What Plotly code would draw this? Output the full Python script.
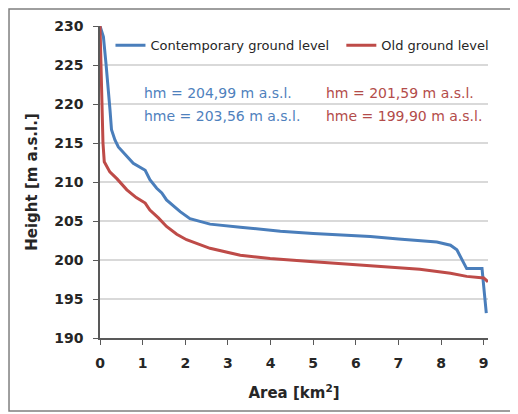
import plotly.graph_objects as go

area_contemporary = [0.00, 0.08, 0.14, 0.195, 0.235, 0.27, 0.35, 0.43, 0.66, 0.78, 1.06, 1.17, 1.33, 1.45,
                     1.56, 1.88, 2.11, 2.58, 3.29, 3.99, 4.23, 5.0, 6.34, 7.0, 7.9, 8.22, 8.37, 8.6, 8.96, 9.0, 9.06]
height_contemporary = [230.0, 228.6, 225.2, 222.2, 219.2, 216.7, 215.4, 214.5, 213.2, 212.4, 211.5, 210.3, 209.2, 208.6,
                       207.7, 206.2, 205.3, 204.6, 204.2, 203.8, 203.7, 203.4, 203.0, 202.7, 202.3, 201.9, 201.3, 198.9, 198.9, 196.6, 193.2]

area_old = [0.00, 0.02, 0.05, 0.07, 0.10, 0.23, 0.40, 0.63, 0.85, 1.06, 1.17, 1.37, 1.56, 1.80, 2.03, 2.58, 3.29,
            3.99, 4.93, 6.0, 6.65, 7.5, 8.22, 8.6, 9.0, 9.1]
height_old = [230.0, 226.0, 220.0, 215.0, 212.6, 211.3, 210.4, 209.0, 208.0, 207.3, 206.4, 205.4, 204.3, 203.3, 202.6,
              201.5, 200.6, 200.2, 199.8, 199.4, 199.2, 198.8, 198.3, 197.9, 197.7, 197.2]

series_names = ["Contemporary ground level", "Old ground level"]
stats_contemporary = ["hm = 204,99 m a.s.l.", "hme = 203,56 m a.s.l."]
stats_old = ["hm = 201,59 m a.s.l.", "hme = 199,90 m a.s.l."]

BLUE = "#4A7EBB"
RED = "#BE4B48"
BLUE_TXT = "#4F81BD"
RED_TXT = "#B34C4A"
FONT = "DejaVu Sans"

fig = go.Figure()
fig.add_trace(go.Scatter(x=area_contemporary, y=height_contemporary, mode="lines", name=series_names[0],
                         line=dict(color=BLUE, width=3), legend="legend"))
fig.add_trace(go.Scatter(x=area_old, y=height_old, mode="lines", name=series_names[1],
                         line=dict(color=RED, width=3), legend="legend2"))

# stats annotations
for i, t in enumerate(stats_contemporary):
    fig.add_annotation(x=0.108, y=0.785 - i * 0.072, xref="paper", yref="paper", text=t, showarrow=False,
                       xanchor="left", yanchor="middle", font=dict(family=FONT, size=14, color=BLUE_TXT))
for i, t in enumerate(stats_old):
    fig.add_annotation(x=0.577, y=0.785 - i * 0.072, xref="paper", yref="paper", text=t, showarrow=False,
                       xanchor="left", yanchor="middle", font=dict(family=FONT, size=14, color=RED_TXT))

# outer frame (open on the right, as in the cropped original)
fig.add_shape(type="path", xref="paper", yref="paper",
              path="M 1.5 1.0545 L -0.2345 1.0545 L -0.2345 -0.234 L 1.5 -0.234",
              line=dict(color="#7f7f7f", width=1.5), layer="below")

legend_common = dict(orientation="h", yanchor="middle", xanchor="left", bgcolor="rgba(0,0,0,0)",
                     font=dict(family=FONT, size=13, color="#262626"), itemwidth=30)

fig.update_layout(
    width=510, height=406,
    margin=dict(l=92, r=30, t=18, b=76, autoexpand=False),
    paper_bgcolor="white", plot_bgcolor="white",
    font=dict(family=FONT, color="#262626"),
    showlegend=True,
    legend=dict(x=0.027, y=0.938, **legend_common),
    legend2=dict(x=0.622, y=0.938, **legend_common),
    xaxis=dict(range=[0, 9.1], tickvals=list(range(0, 10)), showgrid=False, zeroline=False,
               showline=True, linecolor="#595959", linewidth=1.5,
               ticks="outside", ticklen=5, tickcolor="#595959",
               tickfont=dict(family=FONT, size=14, color="#262626", weight="bold"),
               ticklabelstandoff=6,
               title=dict(text="<b>Area [km<sup>2</sup>]</b>", font=dict(family=FONT, size=15, color="#262626"),
                          standoff=18)),
    yaxis=dict(range=[190, 230], tickvals=list(range(190, 231, 5)), showgrid=True, gridcolor="#D9D9D9",
               gridwidth=1.5, zeroline=False,
               showline=True, linecolor="#595959", linewidth=1.5,
               ticks="outside", ticklen=5, tickcolor="#595959",
               tickfont=dict(family=FONT, size=14, color="#262626", weight="bold"),
               ticklabelstandoff=7,
               title=dict(text="<b>Height [m a.s.l.]</b>", font=dict(family=FONT, size=15, color="#262626"),
                          standoff=13)),
)

fig.write_html("out.html")
